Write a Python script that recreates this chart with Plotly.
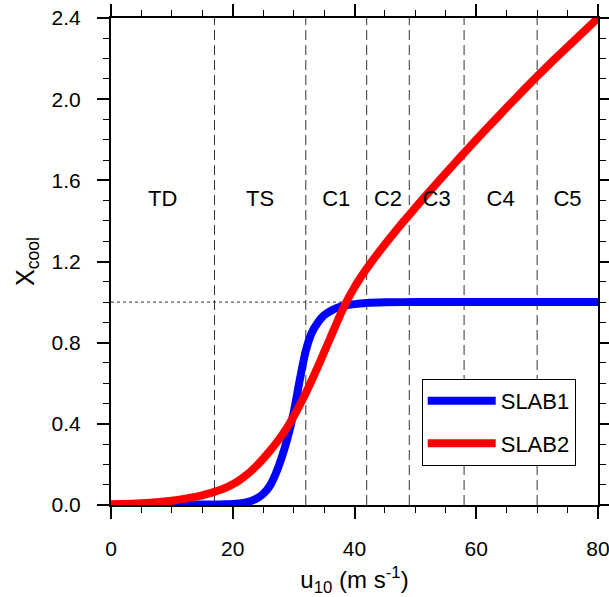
import plotly.graph_objects as go

# ---- data ----
u_slab1 = [0, 10, 15, 18, 20, 22, 23, 24, 25, 26, 27, 28, 29, 30, 31, 32, 33, 34, 35, 36, 37, 38, 40, 42, 45, 50, 60, 70, 80]
x_slab1 = [0.0, 0.001, 0.002, 0.003, 0.005, 0.012, 0.02, 0.033, 0.055, 0.09, 0.15, 0.23, 0.33, 0.455, 0.615, 0.76,
           0.85, 0.90, 0.935, 0.955, 0.97, 0.98, 0.99, 0.996, 0.999, 1.0, 1.0, 1.0, 1.0]

u_slab2 = [0, 5, 8, 10, 12, 14, 15, 16, 17, 18, 19, 20, 21, 22, 23, 24, 25, 26, 27, 28, 29, 30, 31, 32, 33, 34, 35,
           36, 37, 38, 39, 40, 41, 42, 44, 46, 48, 50, 52, 54, 56, 58, 60, 62, 64, 66, 68, 70, 72, 74, 76, 78, 80]
x_slab2 = [0.004, 0.009, 0.015, 0.021, 0.03, 0.041, 0.048, 0.056, 0.065, 0.075, 0.087, 0.102, 0.12, 0.142, 0.167,
           0.196, 0.228, 0.263, 0.30, 0.34, 0.385, 0.436, 0.492, 0.552, 0.616, 0.683, 0.752, 0.822, 0.892, 0.96,
           1.02, 1.073, 1.121, 1.165, 1.246, 1.322, 1.395, 1.465, 1.534, 1.602, 1.669, 1.735, 1.80, 1.864,
           1.927, 1.99, 2.052, 2.113, 2.172, 2.229, 2.286, 2.343, 2.40]

category_bounds = [17, 32, 42, 49, 58, 70]
category_labels = ["TD", "TS", "C1", "C2", "C3", "C4", "C5"]
label_level = 1.5
threshold = 1.0
x_range = [0, 80]
y_range = [0, 2.4]

x_ticks = [0, 20, 40, 60, 80]
y_ticks = [0.0, 0.4, 0.8, 1.2, 1.6, 2.0, 2.4]

FONT = "Liberation Sans, Arial, Helvetica, sans-serif"

edges = [x_range[0]] + category_bounds + [x_range[1]]
label_x = [(edges[i] + edges[i + 1]) / 2 for i in range(len(edges) - 1)]

fig = go.Figure()

fig.add_trace(go.Scatter(x=u_slab1, y=x_slab1, mode="lines", name="SLAB1",
                         line=dict(color="#0000ff", width=8, shape="spline", smoothing=0.8),
                         legendgroup="g1"))
fig.add_trace(go.Scatter(x=u_slab2, y=x_slab2, mode="lines", name="SLAB2",
                         line=dict(color="#ff0000", width=8, shape="spline", smoothing=0.8),
                         legendgroup="g2"))
fig.add_trace(go.Scatter(x=label_x, y=[label_level] * len(label_x), mode="text",
                         text=category_labels, showlegend=False, hoverinfo="skip",
                         textfont=dict(family=FONT, size=22, color="black")))

for b in category_bounds:
    fig.add_shape(type="line", xref="x", yref="y", x0=b, x1=b, y0=y_range[0], y1=y_range[1],
                  line=dict(color="#333333", width=1, dash="10px,5px"), layer="below")
fig.add_shape(type="line", xref="x", yref="y", x0=x_range[0], x1=x_range[1], y0=threshold, y1=threshold,
              line=dict(color="#333333", width=1, dash="3px,3px"), layer="below")

axis_common = dict(
    showline=True, linecolor="black", linewidth=2, mirror="ticks",
    ticks="outside", ticklen=12, tickwidth=1.5, tickcolor="black",
    showgrid=False, zeroline=False, automargin=False, ticklabeloverflow="allow",
    tickfont=dict(family=FONT, size=21, color="black"),
)

fig.update_xaxes(range=x_range, tickvals=x_ticks, ticktext=[str(v) for v in x_ticks],
                 minor=dict(dtick=5, ticklen=6, tickwidth=1.2, tickcolor="black", ticks="outside"),
                 ticklabelstandoff=12,
                 title=dict(text="u<sub>10</sub> (m s<sup>-1</sup>)", font=dict(family=FONT, size=24, color="black"),
                            standoff=14),
                 **axis_common)
fig.update_yaxes(range=y_range, tickvals=y_ticks, ticktext=[f"{v:.1f}" for v in y_ticks],
                 minor=dict(dtick=0.1, ticklen=6, tickwidth=1.2, tickcolor="black", ticks="outside"),
                 ticklabelstandoff=12,
                 title=dict(text="X<sub>cool</sub>", font=dict(family=FONT, size=25, color="black"),
                            standoff=10),
                 **axis_common)

fig.update_layout(
    width=609, height=597,
    margin=dict(l=111, r=11, t=18, b=92, autoexpand=False),
    paper_bgcolor="white", plot_bgcolor="white",
    font=dict(family=FONT, color="black"),
    showlegend=True,
    legend=dict(x=0.638, y=0.259, xanchor="left", yanchor="top",
                bgcolor="white", bordercolor="black", borderwidth=1,
                font=dict(family=FONT, size=22, color="black"),
                itemwidth=68, traceorder="grouped", tracegroupgap=11),
)

fig.write_html("out.html")
